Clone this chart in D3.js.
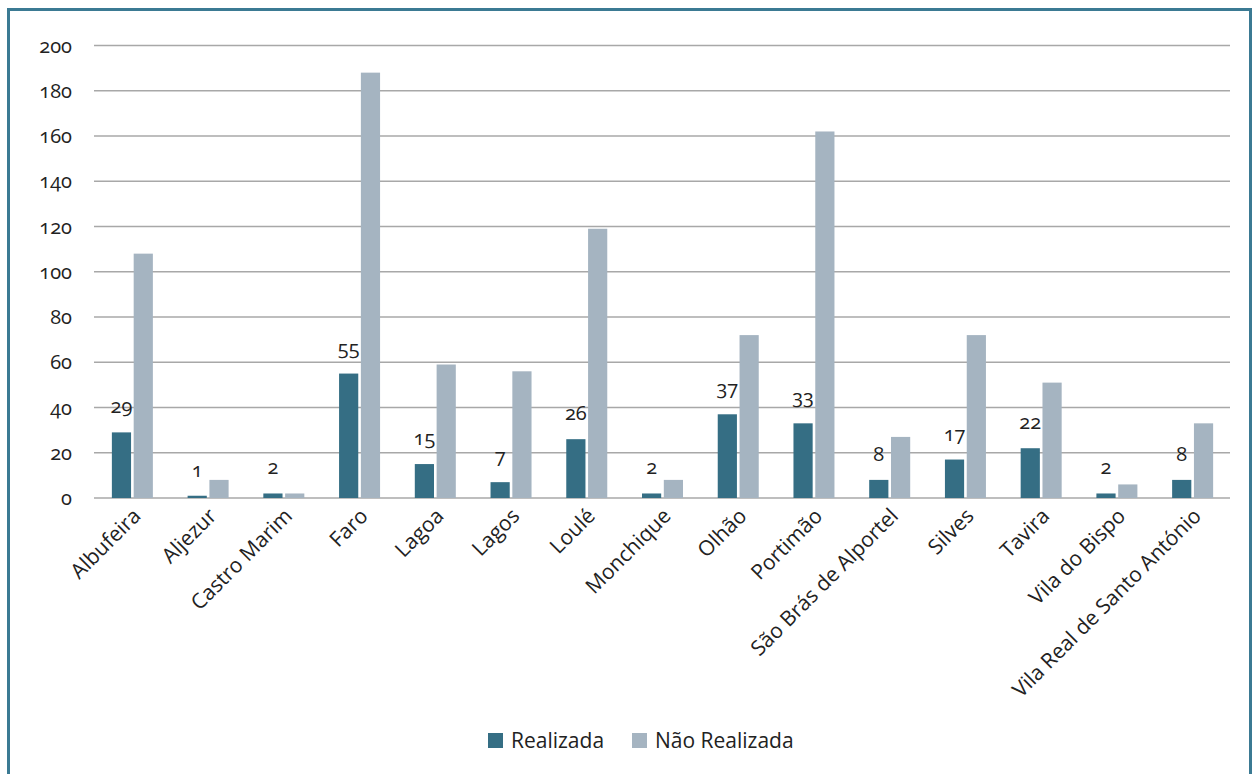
<!DOCTYPE html>
<html>
<head>
<meta charset="utf-8">
<script src="https://cdn.jsdelivr.net/npm/d3@7"></script>
<style>
  body { margin: 0; background: #fff; }
  svg { display: block; font-family: "Open Sans", sans-serif; }
</style>
</head>
<body>
<svg id="chart" width="1254" height="774"></svg>
<script>
// concelhos do Algarve
var concelhos = ['Albufeira', 'Aljezur', 'Castro Marim', 'Faro', 'Lagoa', 'Lagos', 'Loulé',
  'Monchique', 'Olhão', 'Portimão', 'São Brás de Alportel', 'Silves', 'Tavira',
  'Vila do Bispo', 'Vila Real de Santo António'];
var realizada = [29, 1, 2, 55, 15, 7, 26, 2, 37, 33, 8, 17, 22, 2, 8];
var naoRealizada = [108, 8, 2, 188, 59, 56, 119, 8, 72, 162, 27, 72, 51, 6, 33];
var series = ['Realizada', 'Não Realizada'];
var yTicks = [0, 20, 40, 60, 80, 100, 120, 140, 160, 180, 200];

var colors = { 'Realizada': '#356e84', 'Não Realizada': '#a5b4c1' };

var svg = d3.select('#chart');

// moldura
svg.append('rect')
  .attr('x', 8.5).attr('y', 9.5)
  .attr('width', 1242).attr('height', 780)
  .style('fill', 'none')
  .style('stroke', '#3b7a93')
  .style('stroke-width', 3);

var x = d3.scaleBand().domain(concelhos).range([94, 1230]);
var x1 = d3.scaleBand().domain(series).range([x.bandwidth() / 2 - 20, x.bandwidth() / 2 + 21]).paddingInner(0.12);
var y = d3.scaleLinear().domain([0, 200]).range([498, 45.5]);

// grelha
svg.append('g')
  .selectAll('line')
  .data(yTicks)
  .join('line')
    .attr('x1', 94).attr('x2', 1230)
    .attr('y1', function(d){ return y(d); })
    .attr('y2', function(d){ return y(d); })
    .style('stroke', '#a8a8a8')
    .style('stroke-width', 1.5);

svg.append('g')
  .selectAll('text')
  .data(yTicks)
  .join('text')
    .attr('x', 72)
    .attr('y', function(d){ return y(d); })
    .attr('dy', '0.35em')
    .attr('text-anchor', 'end')
    .style('font-size', '20px')
    .style('font-feature-settings', '"onum"')
    .style('fill', '#222')
    .text(function(d){ return d; });

var rows = concelhos.map(function(c, i){
  return { concelho: c, values: [
    { key: 'Realizada', value: realizada[i] },
    { key: 'Não Realizada', value: naoRealizada[i] }
  ]};
});

var groups = svg.append('g')
  .selectAll('g')
  .data(rows)
  .join('g')
    .attr('transform', function(d){ return 'translate(' + x(d.concelho) + ',0)'; });

groups.selectAll('rect')
  .data(function(d){ return d.values; })
  .join('rect')
    .attr('x', function(d){ return x1(d.key); })
    .attr('width', x1.bandwidth())
    .attr('y', function(d){ return y(d.value); })
    .attr('height', function(d){ return y(0) - y(d.value); })
    .style('fill', function(d){ return colors[d.key]; });

// rotulos so na serie Realizada
groups.append('text')
  .attr('x', function(d){ return x1('Realizada') + x1.bandwidth() / 2; })
  .attr('y', function(d){ return y(d.values[0].value) - 19; })
  .attr('text-anchor', 'middle')
  .style('font-size', '20px')
  .style('font-feature-settings', '"onum"')
  .style('fill', '#222')
  .text(function(d){ return d.values[0].value; });

// eixo x
svg.append('g')
  .selectAll('text')
  .data(concelhos)
  .join('text')
    .attr('transform', function(d){
      return 'translate(' + (x(d) + x.bandwidth() / 2 + 5) + ',512) rotate(-45)';
    })
    .attr('text-anchor', 'end')
    .attr('dy', '0.35em')
    .style('font-size', '21px')
    .style('fill', '#222')
    .text(function(d){ return d; });

// legenda
var legend = svg.append('g').attr('transform', 'translate(488,741)');
var legendX = [0, 144];
series.forEach(function(s, i){
  var g = legend.append('g').attr('transform', 'translate(' + legendX[i] + ',0)');
  g.append('rect')
    .attr('x', 0).attr('y', -8)
    .attr('width', 15).attr('height', 15)
    .style('fill', colors[s]);
  g.append('text')
    .attr('x', 23).attr('y', 0)
    .attr('dy', '0.35em')
    .style('font-size', '21px')
    .style('fill', '#222')
    .text(s);
});
</script>
</body>
</html>
